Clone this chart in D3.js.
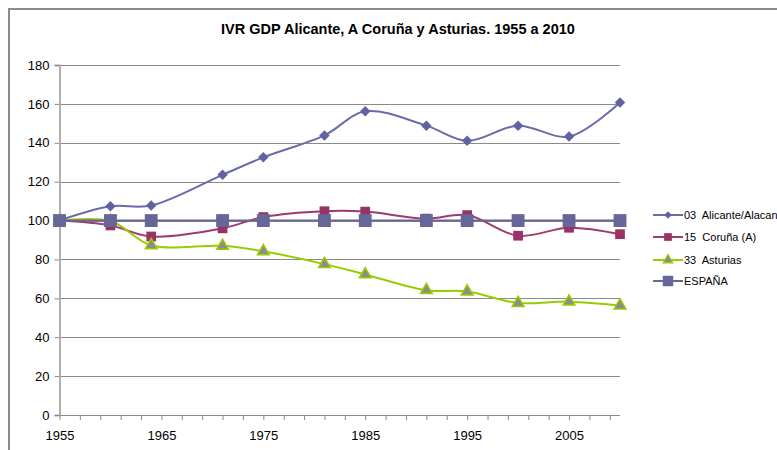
<!DOCTYPE html>
<html>
<head>
<meta charset="utf-8">
<script src="https://cdn.jsdelivr.net/npm/d3@7"></script>
<style>
 body { margin: 0; background: #fff; }
 svg text { font-family: "Liberation Sans", Arial, sans-serif; fill: #000; }
</style>
</head>
<body>
<div id="chart"></div>
<script type="text/javascript">
 // data
 var years    = [1955, 1960, 1964, 1971, 1975, 1981, 1985, 1991, 1995, 2000, 2005, 2010];
 var alicante = [100, 107.3, 107.7, 123.5, 132.5, 143.8, 156.2, 148.8, 141, 148.8, 143.2, 160.7];
 var coruna   = [100, 97.5, 91.8, 96, 101.8, 104.8, 104.6, 101, 102.8, 92.2, 96.3, 93];
 var asturias = [100, 99.8, 87.3, 87, 84.2, 77.6, 72.3, 64.2, 63.5, 57.6, 58.3, 56.3];
 var espana   = [100, 100, 100, 100, 100, 100, 100, 100, 100, 100, 100, 100];
 var seriesNames = ["03  Alicante/Alacant", "15  Coruña (A)", "33  Asturias", "ESPAÑA"];
 var yTicks = [0, 20, 40, 60, 80, 100, 120, 140, 160, 180];
 var xLabels = [1955, 1965, 1975, 1985, 1995, 2005];
 var xMinor = d3.range(1955, 2010, 2);

 var props = { width: 777, height: 450, left: 59.5, right: 620, top: 65, bottom: 415 };

 var svg = d3.select("#chart").append("svg").attr("width", props.width).attr("height", props.height);

 // outer frame (only left and top visible)
 svg.append("rect").attr("x", 9).attr("y", 9).attr("width", 800).attr("height", 500)
   .style("fill", "none").style("stroke", "#8c8c8c").style("stroke-width", 2);

 var x = d3.scaleLinear().domain([1955, 2010]).range([props.left, props.right]);
 var y = d3.scaleLinear().domain([0, 180]).range([props.bottom, props.top]);

 svg.append("text").attr("x", 398).attr("y", 34).attr("text-anchor", "middle")
   .style("font-size", "14.5px").style("font-weight", "bold")
   .text("IVR GDP Alicante, A Coruña y Asturias. 1955 a 2010");

 // gridlines
 svg.append("g").selectAll("line").data(yTicks.filter(function(d){ return d > 0; })).enter().append("line")
   .attr("x1", props.left).attr("x2", props.right)
   .attr("y1", function(d){ return Math.round(y(d)) + 0.5; })
   .attr("y2", function(d){ return Math.round(y(d)) + 0.5; })
   .style("stroke", "#8a8a8a");

 // y axis
 var yAxis = d3.axisLeft(y).tickValues(yTicks).tickSize(5).tickPadding(5);
 var gy = svg.append("g").attr("transform", "translate(" + props.left + ",0)").call(yAxis);
 gy.select(".domain").style("stroke", "#b0b0b0").style("stroke-width", 2);
 gy.selectAll(".tick line").style("stroke", "#8a8a8a");
 gy.selectAll("text").style("font-size", "13px").style("font-family", "Liberation Sans, Arial, sans-serif");

 // x axis
 var xAxis = d3.axisBottom(x).tickValues(xMinor).tickSize(5)
   .tickFormat(function(d){ return xLabels.indexOf(d) >= 0 ? d : ""; }).tickPadding(11);
 var gx = svg.append("g").attr("transform", "translate(0," + props.bottom + ")").call(xAxis);
 gx.select(".domain").style("stroke", "#8a8a8a").attr("d", "M" + props.left + ",0.5H" + props.right);
 gx.selectAll(".tick line").style("stroke", "#8a8a8a");
 gx.selectAll("text").style("font-size", "13px").style("font-family", "Liberation Sans, Arial, sans-serif");

 // excel style diamond: a square turned by 45 degrees
 var diamond = {
   draw: function(ctx, size){
     var r = Math.sqrt(size / 2);
     ctx.moveTo(0, -r); ctx.lineTo(r, 0); ctx.lineTo(0, r); ctx.lineTo(-r, 0); ctx.closePath();
   }
 };

 var series = [
   { name: seriesNames[0], values: alicante, line: "#6B6BAA", fill: "#6063A2", stroke: "none", shape: diamond, size: 55, lsize: 28 },
   { name: seriesNames[1], values: coruna,   line: "#9E3B6D", fill: "#993366", stroke: "none", shape: d3.symbolSquare, size: 95, lsize: 60 },
   { name: seriesNames[2], values: asturias, line: "#99CC00", fill: "#8C8C8C", stroke: "#99CC00", shape: d3.symbolTriangle, size: 60, lsize: 40 },
   { name: seriesNames[3], values: espana,   line: "#666699", fill: "#666699", stroke: "none", shape: d3.symbolSquare, size: 165, lsize: 110 }
 ];

 var line = d3.line()
   .x(function(d){ return x(d.year); })
   .y(function(d){ return y(d.v); })
   .curve(d3.curveCatmullRom.alpha(0.5));

 series.forEach(function(s){
   var pts = years.map(function(yr, i){ return { year: yr, v: s.values[i] }; });
   var g = svg.append("g");
   g.append("path").attr("d", line(pts))
     .style("fill", "none").style("stroke", s.line).style("stroke-width", 2);
   g.selectAll("path.m").data(pts).enter().append("path").attr("class", "m")
     .attr("d", d3.symbol().type(s.shape).size(s.size))
     .attr("transform", function(d){ return "translate(" + x(d.year) + "," + y(d.v) + ")"; })
     .style("fill", s.fill).style("stroke", s.stroke).style("stroke-width", 1.5);
 });

 // legend
 var leg = svg.append("g").selectAll("g").data(series).enter().append("g")
   .attr("transform", function(d, i){ return "translate(653," + [215, 237, 260, 281][i] + ")"; });
 leg.append("line").attr("x1", 0).attr("x2", 30).attr("y1", 0).attr("y2", 0)
   .style("stroke", function(d){ return d.line; }).style("stroke-width", 2);
 leg.append("path").attr("d", function(d){ return d3.symbol().type(d.shape).size(d.lsize)(); })
   .attr("transform", "translate(15,0)")
   .style("fill", function(d){ return d.fill; }).style("stroke", function(d){ return d.stroke; }).style("stroke-width", 1.2);
 leg.append("text").attr("x", 31).attr("y", 4).style("font-size", "11px").style("white-space", "pre")
   .text(function(d){ return d.name; });
</script>
</body>
</html>
